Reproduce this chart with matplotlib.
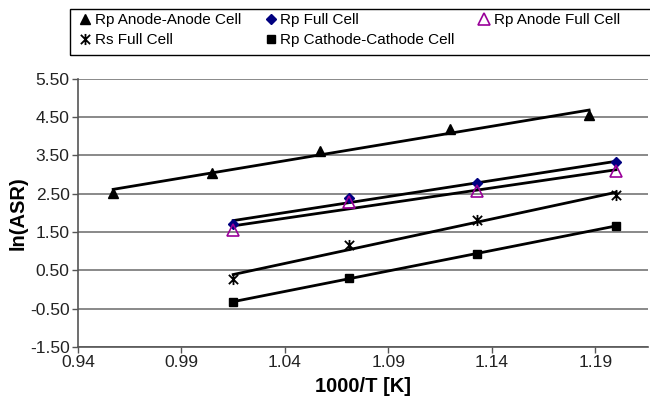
import numpy as np
import matplotlib
matplotlib.use('Agg')
from matplotlib import pyplot as plt
from matplotlib.path import Path
from matplotlib.patches import Rectangle

plt.rcParams['font.family'] = ['Liberation Sans', 'DejaVu Sans']

# 1000/T values
x_aa = [0.957, 1.005, 1.057, 1.120, 1.187]
x_fc = [1.015, 1.071, 1.133, 1.200]

# ln(ASR) values
rp_anode_anode = [2.52, 3.05, 3.62, 4.19, 4.56]
rp_full = [1.72, 2.39, 2.77, 3.32]
rp_anode_full = [1.55, 2.28, 2.57, 3.09]
rs_full = [0.28, 1.17, 1.82, 2.46]
rp_cathode = [-0.32, 0.29, 0.94, 1.66]

yticks = [-1.5, -0.5, 0.5, 1.5, 2.5, 3.5, 4.5, 5.5]
xticks = [0.94, 0.99, 1.04, 1.09, 1.14, 1.19]

# Excel-like star marker: X with a vertical bar
star = Path([(-1, -1), (1, 1), (-1, 1), (1, -1), (0, -1.2), (0, 1.2)],
            [Path.MOVETO, Path.LINETO, Path.MOVETO, Path.LINETO, Path.MOVETO, Path.LINETO])

series = [
    (x_aa, rp_anode_anode, 'Rp Anode-Anode Cell', dict(marker='^', color='black', ms=7)),
    (x_fc, rp_full, 'Rp Full Cell', dict(marker='D', color='#000080', ms=5)),
    (x_fc, rp_anode_full, 'Rp Anode Full Cell',
     dict(marker='^', color='#990099', mfc='none', ms=8, mew=1.2)),
    (x_fc, rs_full, 'Rs Full Cell', dict(marker=star, color='black', ms=8, mew=1.3)),
    (x_fc, rp_cathode, 'Rp Cathode-Cathode Cell', dict(marker='s', color='black', ms=6)),
]

fig = plt.figure(figsize=(6.5, 4.04), dpi=100)
ax = fig.add_axes([0.12, 0.141, 0.877, 0.664])

handles = []
for xs, ys, label, style in series:
    xs = np.array(xs)
    ys = np.array(ys)
    # linear trendline over the range of the data
    k, b = np.polyfit(xs, ys, 1)
    xx = np.array([xs.min(), xs.max()])
    ax.plot(xx, k * xx + b, color='black', lw=2, zorder=2)
    h, = ax.plot(xs, ys, ls='none', zorder=3, label=label, **style)
    handles.append(h)

ax.set_xlim(0.94, 1.2155)
ax.set_ylim(-1.5, 5.5)
ax.set_xticks(xticks)
ax.set_yticks(yticks)
ax.set_xticklabels(['%.2f' % v for v in xticks])
ax.set_yticklabels(['%.2f' % v for v in yticks])
ax.tick_params(labelsize=12.5, colors='#222222', length=4, width=1, direction='out', pad=2)
ax.tick_params(color='#555555')
ax.grid(axis='y', color='#808080', lw=1.3)
ax.set_axisbelow(True)
for s in ['top', 'right']:
    ax.spines[s].set_visible(False)
for s in ['left', 'bottom']:
    ax.spines[s].set_color('#555555')
    ax.spines[s].set_linewidth(1.2)

ax.set_xlabel('1000/T [K]', fontsize=14.5, fontweight='bold', labelpad=5)
ax.set_ylabel('ln(ASR)', fontsize=14.5, fontweight='bold', labelpad=2)

# legend box runs off the right edge of the figure
W, H = 650, 404
fig.patches.append(Rectangle((70 / W, 1 - 55 / H), 600 / W, 46 / H,
                             transform=fig.transFigure, fill=False,
                             edgecolor='black', lw=1))

# legend is filled row-wise in the reference: reorder for column-wise filling
order = [0, 3, 1, 4, 2]
leg = fig.legend(handles=[handles[i] for i in order], ncol=3, loc='upper left',
                 bbox_to_anchor=(80 / W, 1 - 13 / H), fontsize=11,
                 frameon=False, handlelength=0.7, handletextpad=0.3,
                 columnspacing=1.55, borderpad=0, labelspacing=0.4,
                 borderaxespad=0)

plt.savefig('out.png', dpi=100)
